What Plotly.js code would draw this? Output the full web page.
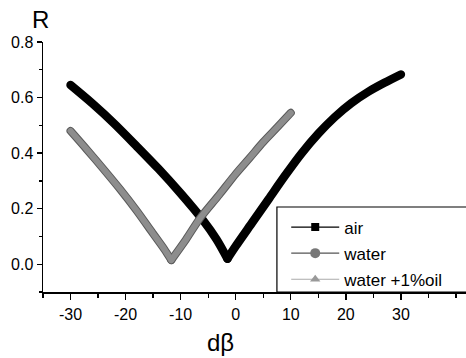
<!DOCTYPE html>
<html>
<head>
<meta charset="utf-8">
<script src="https://cdn.plot.ly/plotly-3.0.1.min.js"></script>
<style>
  html, body { margin: 0; padding: 0; background: #fff; }
  #chart { width: 466px; height: 358px; }
  /* rounded ends so the two arms of each V meet cleanly at the minimum */
  #chart .scatterlayer .js-line { stroke-linecap: round; stroke-linejoin: round; }
</style>
</head>
<body>
<div id="chart"></div>
<script>
// Reflectance R versus angular detuning dβ (degrees)
const airAngle = [-30, -26, -22, -18, -14, -10, -6, -3.5, -1.5, 0, 3, 6, 9, 12, 15, 18, 21, 24, 27, 30];
const airR     = [0.645, 0.578, 0.505, 0.425, 0.343, 0.255, 0.16, 0.09, 0.02, 0.065, 0.15, 0.235, 0.32, 0.40, 0.47, 0.53, 0.58, 0.62, 0.653, 0.683];

const waterAngle = [-30, -27, -24, -21, -18, -15, -13, -11.7, -9, -6.5, -3, 0, 2.5, 5, 7.5, 10];
const waterR     = [0.48, 0.412, 0.342, 0.27, 0.193, 0.11, 0.055, 0.015, 0.09, 0.165, 0.25, 0.325, 0.382, 0.44, 0.492, 0.545];

const oilAngle = [-30, -27, -24, -21, -18, -15, -13, -11.7, -9, -6.5, -3, 0, 2.5, 5, 7.5, 10];
const oilR     = [0.48, 0.412, 0.342, 0.27, 0.193, 0.11, 0.055, 0.015, 0.09, 0.165, 0.25, 0.325, 0.382, 0.44, 0.492, 0.545];

const seriesNames = ['air', 'water', 'water +1%oil'];
const xTickVals = [-30, -20, -10, 0, 10, 20, 30];
const yTickVals = [0.0, 0.2, 0.4, 0.6, 0.8];

const FONT = 'Liberation Sans, Arial, Helvetica, sans-serif';

// Each curve is a V: draw the two arms as separate smooth splines that meet
// at the reflectance minimum, so the tip stays sharp.
function arms(xs, ys, line) {
  let k = 0;
  ys.forEach((v, i) => { if (v < ys[k]) k = i; });
  const common = { mode: 'lines', line: Object.assign({ shape: 'spline', smoothing: 0.8 }, line),
                   showlegend: false, hoverinfo: 'skip' };
  return [
    Object.assign({ x: xs.slice(0, k + 1), y: ys.slice(0, k + 1) }, common),
    Object.assign({ x: xs.slice(k), y: ys.slice(k) }, common)
  ];
}

const traces = [
  ...arms(airAngle, airR, { color: '#000', width: 8.5 }),
  ...arms(waterAngle, waterR, { color: '#5a5a5a', width: 8 }),
  ...arms(oilAngle, oilR, { color: '#8d8d8d', width: 6 }),
  // legend keys (thin line + symbol)
  { x: [null], y: [null], name: seriesNames[0], legendgroup: 'a', mode: 'lines+markers',
    line: { color: '#000', width: 1.2 }, marker: { symbol: 'square', size: 8, color: '#000' } },
  { x: [null], y: [null], name: seriesNames[1], legendgroup: 'b', mode: 'lines+markers',
    line: { color: '#555', width: 1.2 }, marker: { symbol: 'circle', size: 10, color: '#777' } },
  { x: [null], y: [null], name: seriesNames[2], legendgroup: 'c', mode: 'lines+markers',
    line: { color: '#aaa', width: 1.2 }, marker: { symbol: 'triangle-up', size: 9, color: '#999' } }
];

const layout = {
  width: 466,
  height: 358,
  margin: { l: 43, r: 0, t: 42, b: 66, pad: 0 },
  paper_bgcolor: '#fff',
  plot_bgcolor: '#fff',
  font: { family: FONT, color: '#000', size: 16 },
  showlegend: true,
  legend: {
    x: 0.575, y: 0.33, xanchor: 'left', yanchor: 'top',
    bgcolor: 'rgba(0,0,0,0)', borderwidth: 0,
    font: { family: FONT, size: 17, color: '#000' },
    itemwidth: 48, tracegroupgap: 1
  },
  xaxis: {
    range: [-35, 41.82],
    showgrid: false, zeroline: false,
    showline: true, linecolor: '#000', linewidth: 1.5,
    ticks: 'outside', ticklen: 6, tickwidth: 1.3, tickcolor: '#000',
    tickvals: xTickVals,
    ticktext: xTickVals.map(v => String(v)),
    tickfont: { family: FONT, size: 16 },
    ticklabelstandoff: 1,
    minor: { ticks: 'outside', dtick: 5, tick0: 0, ticklen: 4, tickwidth: 1.3, tickcolor: '#000' },
    fixedrange: true
  },
  yaxis: {
    range: [-0.1, 0.8],
    showgrid: false, zeroline: false,
    showline: true, linecolor: '#000', linewidth: 1.5,
    ticks: 'outside', ticklen: 5, tickwidth: 1.3, tickcolor: '#000',
    tickvals: yTickVals,
    ticktext: yTickVals.map(v => v.toFixed(1)),
    tickfont: { family: FONT, size: 16 },
    minor: { ticks: 'outside', dtick: 0.1, tick0: 0, ticklen: 3, tickwidth: 1.3, tickcolor: '#000' },
    fixedrange: true
  },
  shapes: [
    // legend frame, running off the right edge
    { type: 'rect', xref: 'paper', yref: 'paper', x0: 0.553, x1: 1.05, y0: 0, y1: 0.34,
      line: { color: '#000', width: 1.2 }, fillcolor: 'rgba(0,0,0,0)', layer: 'above' }
  ],
  annotations: [
    { text: 'R', xref: 'paper', yref: 'paper', x: 0, y: 1.09, xanchor: 'left', yanchor: 'middle',
      xshift: -13, showarrow: false, font: { family: FONT, size: 24 } },
    { text: 'dβ', xref: 'paper', yref: 'paper', x: (220 - 43) / 423, y: -0.2, xanchor: 'center', yanchor: 'middle',
      showarrow: false, font: { family: FONT, size: 24 } }
  ]
};

Plotly.newPlot('chart', traces, layout, { staticPlot: true, displayModeBar: false });
</script>
</body>
</html>
